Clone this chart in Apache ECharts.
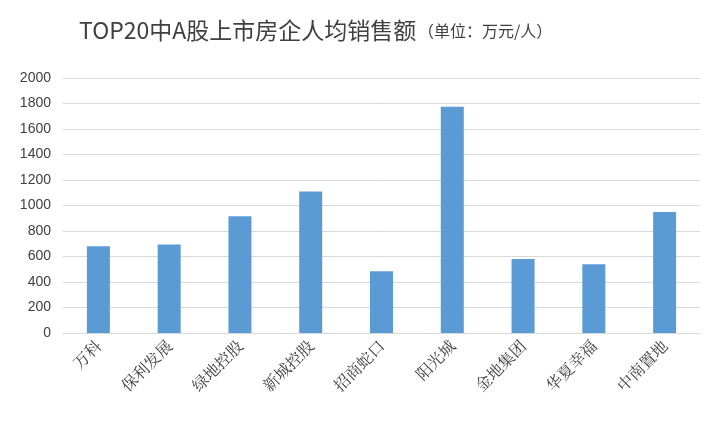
<!DOCTYPE html>
<html>
<head>
<meta charset="utf-8">
<script src="https://cdn.jsdelivr.net/npm/echarts@6/dist/echarts.min.js"></script>
<style>html,body{margin:0;padding:0;background:#fff}#c{width:722px;height:429px}</style>
</head>
<body>
<div id="c"></div>
<script>
// 公司名称
const categories = ['万科', '保利发展', '绿地控股', '新城控股', '招商蛇口', '阳光城', '金地集团', '华夏幸福', '中南置地']
// 人均销售额（万元/人）
const values = [680, 695, 915, 1110, 485, 1775, 580, 540, 950]

const chart = echarts.init(document.getElementById('c'))
chart.setOption({
  backgroundColor: '#fff',
  animation: false,
  title: {
    text: 'TOP20中A股上市房企人均销售额',
    left: 74,
    top: 14,
    textStyle: { fontFamily: 'Noto Sans CJK SC', fontSize: 23, fontWeight: 'normal', color: '#404040' }
  },
  graphic: [{
    type: 'text', left: 418, top: 23,
    style: { text: '（单位：万元/人）', fontFamily: 'Noto Sans CJK SC', fontSize: 16, fill: '#404040' }
  }],
  grid: { left: 63, right: 22, top: 78, bottom: 96 },
  xAxis: {
    type: 'category',
    data: categories,
    axisTick: { show: false },
    axisLine: { lineStyle: { color: '#d9d9d9' } },
    axisLabel: { rotate: 45, color: '#404040', fontSize: 16, fontFamily: 'Noto Serif CJK SC, Noto Sans CJK SC', margin: 10 }
  },
  yAxis: {
    type: 'value',
    min: 0, max: 2000, interval: 200,
    axisLine: { show: false },
    axisTick: { show: false },
    splitLine: { lineStyle: { color: '#d9d9d9' } },
    axisLabel: { formatter: v => String(v), color: '#404040', fontSize: 14, fontFamily: 'Liberation Sans', margin: 12 }
  },
  series: [{
    type: 'bar',
    data: values,
    barWidth: 23,
    itemStyle: { color: '#5b9bd5' }
  }]
})
</script>
</body>
</html>
